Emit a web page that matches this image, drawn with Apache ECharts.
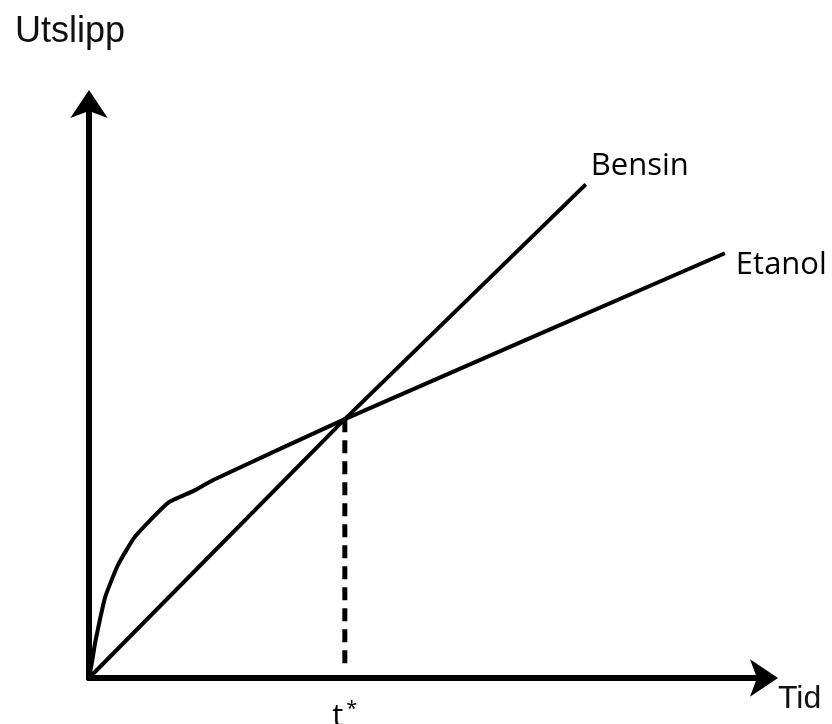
<!DOCTYPE html>
<html>
<head>
<meta charset="utf-8">
<script src="https://cdn.jsdelivr.net/npm/echarts@6/dist/echarts.min.js"></script>
<style>
  html, body { margin: 0; padding: 0; background: #fff; }
  #chart { width: 832px; height: 724px; }
</style>
</head>
<body>
<div id="chart"></div>
<script>
// data, in arbitrary units (0..100 on both axes)
const bensin = [[0, 0], [37.9, 45.1], [73.6, 86.0]];
const etanol = [
  [0, 0], [0.5, 3.1], [0.9, 6.1], [2.4, 14.1], [4.3, 19.7], [6.8, 24.6],
  [11.7, 30.5], [15.5, 32.6], [18.4, 34.5], [37.9, 45.1], [94.2, 74.0]
];
const tStar = 37.9;
const crossing = [[tStar, 45.1], [tStar, 1.9]];

const chart = echarts.init(document.getElementById('chart'));

const lineFont = "'Open Sans', sans-serif";
const arialFont = "'Liberation Sans', Arial, sans-serif";

const arrowAxis = {
  lineStyle: { color: '#000', width: 6 },
  symbol: ['none', 'arrow'],
  symbolSize: [28, 28],
  symbolOffset: [0, 14]
};

chart.setOption({
  animation: false,
  backgroundColor: '#fff',
  title: {
    text: 'Utslipp',
    left: 15,
    top: 14,
    padding: 0,
    textStyle: {
      fontFamily: arialFont,
      fontWeight: 'normal',
      fontSize: 36,
      color: '#111'
    }
  },
  grid: {
    left: 89, right: 68, top: 104, bottom: 46,
    containLabel: false,
    outerBoundsMode: 'none'
  },
  xAxis: {
    type: 'value',
    min: 0,
    max: 100,
    name: 'Tid',
    nameLocation: 'end',
    nameGap: 14,
    nameTextStyle: {
      fontFamily: arialFont,
      fontSize: 32,
      color: '#111',
      align: 'left',
      verticalAlign: 'top',
      padding: [5, 0, 0, 0]
    },
    axisLine: arrowAxis,
    axisTick: { show: false },
    splitLine: { show: false },
    axisLabel: {
      customValues: [tStar],
      margin: 21,
      formatter: () => '{t|t}{s|*}',
      rich: {
        t: { fontFamily: lineFont, fontSize: 31, lineHeight: 34, color: '#000', verticalAlign: 'bottom' },
        s: { fontFamily: lineFont, fontSize: 20, lineHeight: 20, color: '#000', verticalAlign: 'top', padding: [0, 0, 0, 3] }
      }
    }
  },
  yAxis: {
    type: 'value',
    min: 0,
    max: 100,
    axisLine: arrowAxis,
    axisTick: { show: false },
    splitLine: { show: false },
    axisLabel: { show: false }
  },
  series: [
    {
      name: 'Bensin',
      type: 'line',
      data: bensin,
      showSymbol: false,
      lineStyle: { color: '#000', width: 4 },
      endLabel: {
        show: true,
        formatter: '{a}',
        offset: [-3, -18],
        fontFamily: lineFont,
        fontSize: 31,
        color: '#000'
      }
    },
    {
      name: 'Etanol',
      type: 'line',
      data: etanol,
      showSymbol: false,
      smooth: 0.15,
      lineStyle: { color: '#000', width: 4 },
      endLabel: {
        show: true,
        formatter: '{a}',
        offset: [3, 12],
        fontFamily: lineFont,
        fontSize: 31,
        color: '#000'
      }
    },
    {
      name: 't*',
      type: 'line',
      data: crossing,
      showSymbol: false,
      lineStyle: { color: '#000', width: 5, type: [13, 8] }
    }
  ]
});
</script>
</body>
</html>
